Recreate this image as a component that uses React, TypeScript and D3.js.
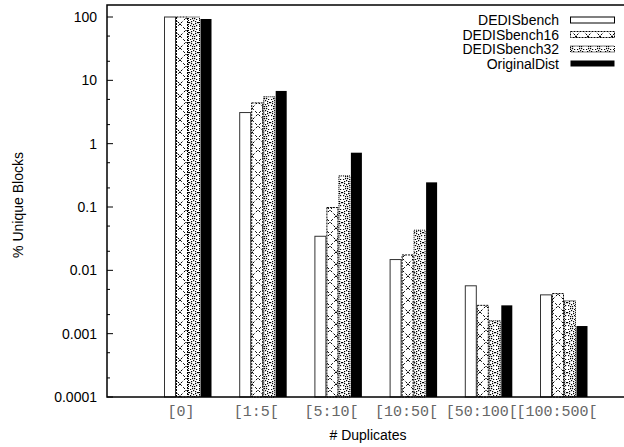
import React from "react";
import * as d3 from "d3";

const categories = ["[0]", "[1:5[", "[5:10[", "[10:50[", "[50:100[", "[100:500["];
const seriesNames = ["DEDISbench", "DEDISbench16", "DEDISbench32", "OriginalDist"];
const dedisbench = [100, 3.1, 0.0345, 0.0148, 0.0057, 0.0041];
const dedisbench16 = [100, 4.4, 0.098, 0.0175, 0.0028, 0.0043];
const dedisbench32 = [100, 5.5, 0.31, 0.043, 0.0016, 0.0033];
const originalDist = [93, 6.8, 0.72, 0.245, 0.0028, 0.00132];
const yTicks = [100, 10, 1, 0.1, 0.01, 0.001, 0.0001];
const yTickLabels = ["100", "10", "1", "0.1", "0.01", "0.001", "0.0001"];

const series = [dedisbench, dedisbench16, dedisbench32, originalDist];
const fills = ["#ffffff", "url(#pat16)", "url(#pat32)", "#000000"];
const dashes = [undefined, "2,1", "1,1", undefined];

const W = 624;
const H = 447;
const plotLeft = 107;
const plotTop = 5;
const plotBottom = 397;
const plotRight = 640;

export default function App() {
  const x = d3.scaleLinear().domain([0, 5]).range([188, 564]);
  const y = d3.scaleLog().domain([0.0001, 100]).range([plotBottom, 17]);
  const barW = 12;

  const minor: number[] = [];
  for (let e = -4; e <= 2; e++) {
    for (const m of [2, 5]) {
      const v = m * Math.pow(10, e);
      if (y(v) >= plotTop && v <= 150) minor.push(v);
    }
  }

  const pat32Dots: [number, number][] = [
    [4, 0], [2, 1], [6, 1], [0, 2], [8, 2], [2, 3], [6, 3], [4, 4],
    [3, 6], [5, 6], [3, 8], [5, 8], [1, 5], [7, 5], [1, 9], [7, 9],
  ];

  return (
    <svg
      width={W}
      height={H}
      style={{ position: "absolute", left: 0, top: 0, background: "#fff" }}
      fontFamily="'Liberation Sans', Arial, sans-serif"
    >
      <defs>
        <pattern id="pat16" patternUnits="userSpaceOnUse" width={12} height={12}>
          <rect width={12} height={12} fill="#fff" />
          <path
            d="M0,0 L12,12 M12,0 L0,12"
            stroke="#000"
            strokeWidth={1}
            strokeDasharray="2.5,2"
            fill="none"
          />
        </pattern>
        <pattern id="pat32" patternUnits="userSpaceOnUse" width={9} height={10}>
          <rect width={9} height={10} fill="#fff" />
          {pat32Dots.map(([dx, dy], i) => (
            <rect key={i} x={dx} y={dy} width={1.2} height={1.2} fill="#000" />
          ))}
        </pattern>
      </defs>

      {/* bars */}
      {series.map((vals, si) =>
        vals.map((v, ci) => {
          const bx = x(ci) - 2 * barW + si * barW;
          const by = y(v);
          return (
            <rect
              key={`${si}-${ci}`}
              x={bx + 0.5}
              y={by}
              width={barW - 1}
              height={plotBottom - by}
              fill={fills[si]}
              stroke={si === 0 ? "#333" : "#000"}
              strokeWidth={si === 3 ? 0 : 1}
              strokeDasharray={dashes[si]}
            />
          );
        })
      )}

      {/* frame */}
      <rect
        x={plotLeft}
        y={plotTop}
        width={plotRight - plotLeft}
        height={plotBottom - plotTop}
        fill="none"
        stroke="#000"
        strokeWidth={1.5}
      />

      {/* y ticks */}
      {yTicks.map((t, i) => (
        <g key={t}>
          <line x1={plotLeft} x2={plotLeft + 6} y1={y(t)} y2={y(t)} stroke="#000" />
          <text x={97} y={y(t) + 5} textAnchor="end" fontSize={14} fill="#000">
            {yTickLabels[i]}
          </text>
        </g>
      ))}
      {minor.map((t) => (
        <line key={t} x1={plotLeft} x2={plotLeft + 3} y1={y(t)} y2={y(t)} stroke="#000" />
      ))}

      {/* x labels */}
      {categories.map((c, i) => (
        <text
          key={c}
          x={x(i) - 7}
          y={416}
          textAnchor="middle"
          fontSize={15}
          fontFamily="'Liberation Mono', 'DejaVu Sans Mono', monospace"
          fill="#666"
        >
          {c}
        </text>
      ))}

      {/* axis titles */}
      <text x={368} y={440} textAnchor="middle" fontSize={14}>
        # Duplicates
      </text>
      <text
        transform={`translate(23, ${(plotTop + plotBottom) / 2 + 4}) rotate(-90)`}
        textAnchor="middle"
        fontSize={14}
      >
        % Unique Blocks
      </text>

      {/* legend */}
      {seriesNames.map((n, i) => {
        const base = 25 + i * 14.5;
        return (
          <g key={n}>
            <text x={559} y={base} textAnchor="end" fontSize={14}>
              {n}
            </text>
            <rect
              x={570.5}
              y={base - 8}
              width={44}
              height={6}
              fill={fills[i]}
              stroke="#000"
              strokeWidth={i === 3 ? 0 : 1}
              strokeDasharray={dashes[i]}
            />
          </g>
        );
      })}
    </svg>
  );
}
